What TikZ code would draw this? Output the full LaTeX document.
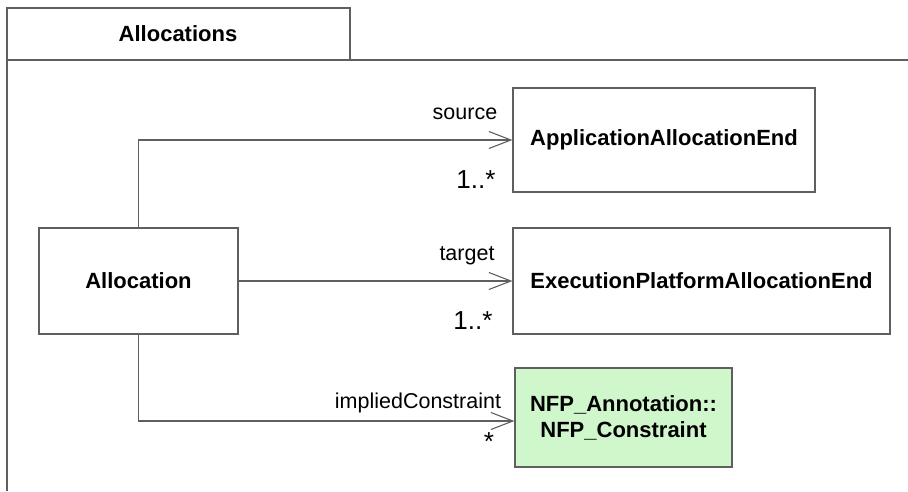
\documentclass[tikz,border=0pt]{standalone}
\usepackage{fontspec}
\setmainfont{Liberation Sans}
\usetikzlibrary{arrows.meta}
\definecolor{linegray}{RGB}{95,95,95}
\definecolor{nfpgreen}{RGB}{208,246,204}
\begin{document}
\begin{tikzpicture}[x=1pt,y=-1pt,
  cls/.style={draw=linegray,line width=1.1pt,minimum width=#1,inner sep=0pt,font=\fontsize{22}{26}\selectfont\bfseries,align=center},
  assoc/.style={draw=linegray,line width=1.1pt,-{Straight Barb[length=22pt,width=17pt,line width=1.1pt]}},
  lbl/.style={font=\fontsize{21.5}{24}\selectfont,inner sep=0pt},
  mult/.style={font=\fontsize{26}{28}\selectfont,inner sep=0pt}]
\useasboundingbox (0,0) rectangle (908,491);
% package
\draw[linegray,line width=1.1pt] (7,491) -- (7,8) -- (350,8) -- (350,60);
\draw[linegray,line width=1.1pt] (7,60) -- (908,60);
\node[font=\fontsize{22}{26}\selectfont\bfseries] (pkg) at (178,34) {Allocations};
% classes
\node[cls=199pt,minimum height=106pt] (alloc) at (138.5,281) {Allocation};
\node[cls=302pt,minimum height=104pt] (app) at (664,140) {ApplicationAllocationEnd};
\node[cls=377pt,minimum height=106pt] (exec) at (701.5,281) {ExecutionPlatformAllocationEnd};
\node[cls=217pt,minimum height=99pt,fill=nfpgreen] (nfp) at (623.5,417.5) {NFP\_Annotation::\\NFP\_Constraint};
% connectors
\draw[assoc] (alloc.north) |- (app.west);
\draw[assoc] (alloc.east) -- (exec.west);
\draw[assoc] (alloc.south) |- (nfp.west |- 0,421);
% labels
\node[lbl] (l1) at (465,114) {source};
\node[mult] (m1) at (476,180) {1..*};
\node[lbl] (l2) at (467,256) {target};
\node[mult] (m2) at (473,321) {1..*};
\node[lbl] (l3) at (418,403) {impliedConstraint};
\node[mult] (m3) at (489,442) {*};
\end{tikzpicture}
\end{document}
